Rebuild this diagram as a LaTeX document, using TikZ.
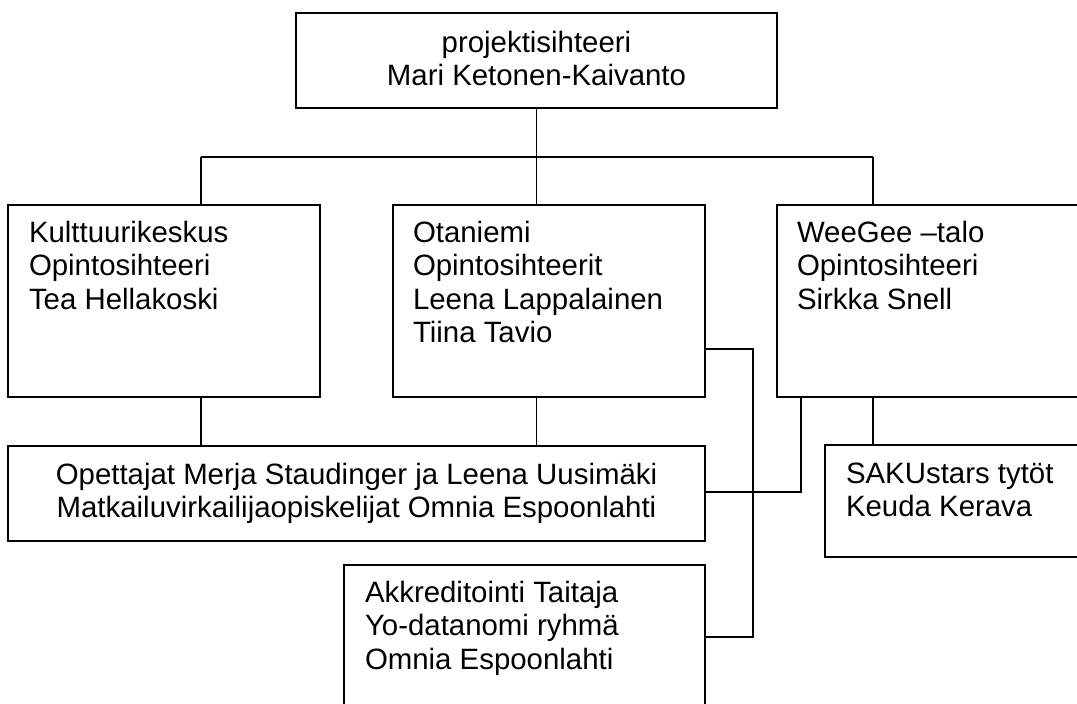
\documentclass[tikz,border=0pt]{standalone}
\usepackage{fontspec}
\setmainfont{Liberation Sans}
\newcommand\fstrut{\rule{0pt}{24pt}}
\begin{document}
\begin{tikzpicture}[x=1pt,y=-1pt,
  box/.style={draw=black,line width=1.9pt,rectangle,inner sep=0pt,outer sep=0pt,anchor=north west},
  txt/.style={inner sep=0pt,outer sep=0pt,align=left,font=\fontsize{29.4}{33.5}\selectfont},
  conn/.style={draw=black,line width=1.9pt}]
\useasboundingbox (0,0) rectangle (1077,704);
\clip (0,0) rectangle (1077,704);
\fill[white] (0,0) rectangle (1077,704);
% boxes
\node[box,minimum width=481pt,minimum height=95pt] (top) at (296,13) {};
\node[box,minimum width=312pt,minimum height=192pt] (kult) at (8,205) {};
\node[box,minimum width=312pt,minimum height=192pt] (otan) at (393,205) {};
\node[box,minimum width=320pt,minimum height=192pt] (wee) at (777,205) {};
\node[box,minimum width=697pt,minimum height=95pt] (opet) at (8,446) {};
\node[box,minimum width=270pt,minimum height=112pt] (saku) at (825,445) {};
\node[box,minimum width=361pt,minimum height=160pt] (akk) at (344,565) {};
% texts
\node[txt,align=center,anchor=north] (toptxt) at (536.5,28) {\fstrut projektisihteeri\\Mari Ketonen-Kaivanto};
\node[txt,anchor=north west] (kulttxt) at (29,218) {\fstrut Kulttuurikeskus\\Opintosihteeri\\Tea Hellakoski};
\node[txt,anchor=north west] (otantxt) at (413,218) {\fstrut Otaniemi\\Opintosihteerit\\Leena Lappalainen\\Tiina Tavio};
\node[txt,anchor=north west] (weetxt) at (797,218) {\fstrut WeeGee –talo\\Opintosihteeri\\Sirkka Snell};
\node[txt,align=center,anchor=north] (opettxt) at (356.5,460) {\fstrut Opettajat Merja Staudinger ja Leena Uusimäki\\Matkailuvirkailijaopiskelijat Omnia Espoonlahti};
\node[txt,anchor=north west] (sakutxt) at (846,459) {\fstrut SAKUstars tytöt\\Keuda Kerava};
\node[txt,anchor=north west] (akktxt) at (365,578) {\fstrut Akkreditointi Taitaja\\Yo-datanomi ryhmä\\Omnia Espoonlahti};
% junction coordinates
\coordinate (busL) at (201,157);
\coordinate (busR) at (873,157);
\coordinate (ak) at (753,349);
\coordinate (akj) at (753,637);
\coordinate (wj) at (801,492);
% connectors
\draw[conn] (top.south) -- (top.south |- busL);
\draw[conn] (busL) -- (busR);
\draw[conn] (busL) -- (busL |- kult.north);
\draw[conn] (top.south |- busL) -- (top.south |- otan.north);
\draw[conn] (busR) -- (busR |- wee.north);
\draw[conn] (busL |- kult.south) -- (busL |- opet.north);
\draw[conn] (top.south |- otan.south) -- (top.south |- opet.north);
\draw[conn] (otan.east |- ak) -- (ak) -- (akj) -- (akk.east |- akj);
\draw[conn] (wj |- wee.south) -- (wj) -- (opet.east |- wj);
\draw[conn] (busR |- wee.south) -- (busR |- saku.north);
\end{tikzpicture}
\end{document}
